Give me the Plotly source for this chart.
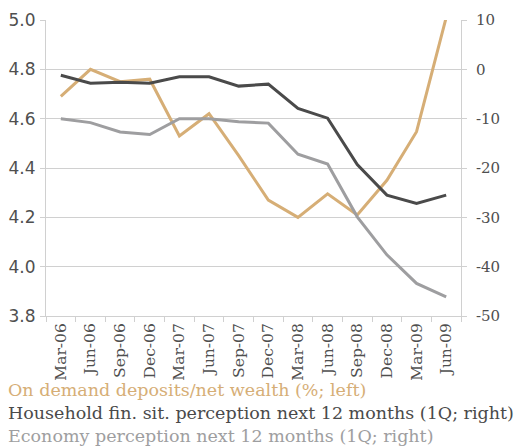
import plotly.graph_objects as go

categories = ["Mar-06", "Jun-06", "Sep-06", "Dec-06", "Mar-07", "Jun-07", "Sep-07",
              "Dec-07", "Mar-08", "Jun-08", "Sep-08", "Dec-08", "Mar-09", "Jun-09"]
deposits = [4.69, 4.80, 4.75, 4.76, 4.53, 4.62, 4.45, 4.27, 4.20, 4.295, 4.21, 4.35, 4.547, 5.01]
household = [-1.2, -2.8, -2.6, -2.8, -1.5, -1.5, -3.4, -3.0, -7.9, -9.9, -19.3, -25.5, -27.2, -25.5]
economy = [-10.0, -10.8, -12.7, -13.2, -10.0, -10.0, -10.6, -10.9, -17.2, -19.2, -29.9, -37.6, -43.4, -46.1]

left_ticks = [3.8, 4.0, 4.2, 4.4, 4.6, 4.8, 5.0]
right_ticks = [-50, -40, -30, -20, -10, 0, 10]

legend_labels = ["On demand deposits/net wealth (%; left)",
                 "Household fin. sit. perception next 12 months (1Q; right)",
                 "Economy perception next 12 months (1Q; right)"]

GOLD = "#D6AE76"
DARK = "#4A4A4A"
LIGHT = "#9E9EA0"
GRID = "#D0D0D0"
TEXT = "#4F4F4F"

PLOT_W = 515 - 46 - 54
PLOT_H = 448 - 20 - 132

fig = go.Figure()
fig.add_trace(go.Scatter(x=categories, y=economy, yaxis="y2", mode="lines",
                         line=dict(color=LIGHT, width=3), name=legend_labels[2]))
fig.add_trace(go.Scatter(x=categories, y=household, yaxis="y2", mode="lines",
                         line=dict(color=DARK, width=3), name=legend_labels[1]))
fig.add_trace(go.Scatter(x=categories, y=deposits, yaxis="y", mode="lines",
                         line=dict(color=GOLD, width=3), name=legend_labels[0], cliponaxis=False))

colors = [GOLD, DARK, LIGHT]
annotations = []
for i, (lab, c) in enumerate(zip(legend_labels, colors)):
    annotations.append(dict(text=lab, xref="paper", yref="paper", x=-40 / PLOT_W,
                            y=-(390 - 316) / PLOT_H - i * 23 / PLOT_H,
                            xanchor="left", yanchor="middle", showarrow=False,
                            font=dict(family="DejaVu Serif", size=17.5, color=c)))

fig.update_layout(
    width=515, height=448,
    margin=dict(l=46, r=54, t=20, b=132),
    paper_bgcolor="white", plot_bgcolor="white",
    showlegend=False,
    annotations=annotations,
    xaxis=dict(type="category", categoryorder="array", categoryarray=categories,
               tickangle=-90, tickson="boundaries", ticks="outside", ticklen=5, tickcolor=GRID,
               showline=True, linecolor=GRID, linewidth=1, showgrid=False, automargin=False,
               tickfont=dict(family="DejaVu Serif", size=15.5, color=TEXT),
               range=[-0.5, 13.5]),
    yaxis=dict(range=[3.8, 5.0], tickvals=left_ticks, ticktext=[f"{v:.1f}" for v in left_ticks],
               showgrid=True, gridcolor=GRID, gridwidth=1, showline=True, linecolor=GRID,
               ticks="outside", ticklen=5, tickcolor=GRID, zeroline=False, automargin=False,
               ticklabelstandoff=1,
               tickfont=dict(family="DejaVu Sans", size=17, color=TEXT)),
    yaxis2=dict(range=[-50, 10], tickvals=right_ticks, ticktext=[str(v) for v in right_ticks],
                overlaying="y", side="right",
                showgrid=False, showline=True, linecolor=GRID, zeroline=False, automargin=False,
                ticks="outside", ticklen=5, tickcolor=GRID, ticklabelstandoff=6,
                tickfont=dict(family="DejaVu Serif", size=15, color=TEXT)),
)

fig.write_html("out.html", config={"displayModeBar": False},
               post_script="document.body.style.margin='0';document.body.style.overflow='hidden';")
